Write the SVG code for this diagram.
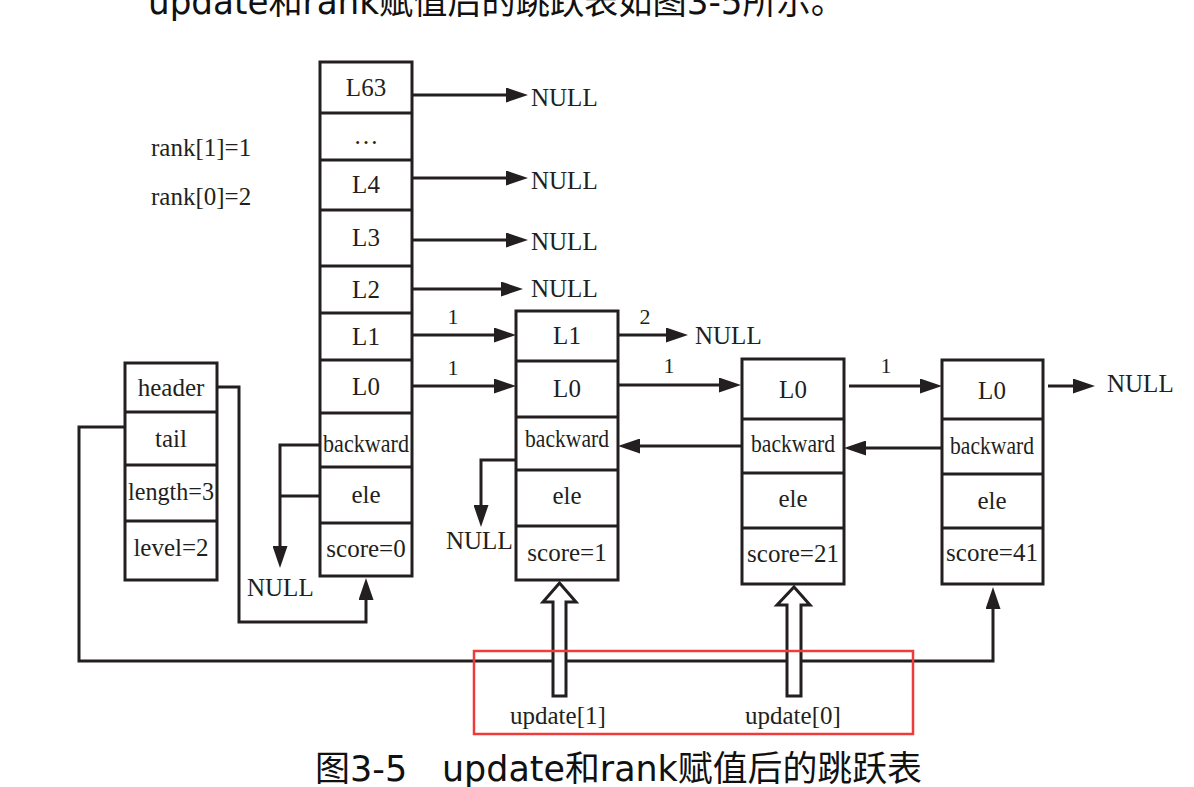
<svg xmlns="http://www.w3.org/2000/svg" width="1194" height="787" viewBox="0 0 1194 787">
<style>
.box{fill:#fff;stroke:#231f20;stroke-width:3}
.div{stroke:#231f20;stroke-width:3}
.t{font-family:"Liberation Serif","Times New Roman",serif;font-size:25px;fill:#231f20;text-anchor:middle}
.s{font-family:"Liberation Serif","Times New Roman",serif;font-size:22px;fill:#231f20}
.r{font-family:"Liberation Serif","Times New Roman",serif;font-size:25px;fill:#231f20}
.n{font-family:"Liberation Serif","Times New Roman",serif;font-size:25px;fill:#231f20}
.c{fill:none;stroke:#231f20;stroke-width:3}
.cap{font-family:"DejaVu Sans","Noto Sans CJK SC",sans-serif;font-size:35px;fill:#111}
</style>
<defs>
<marker id="arr" markerUnits="userSpaceOnUse" markerWidth="22" markerHeight="15" refX="12" refY="7.5" orient="auto">
<path d="M0,0 L22,7.5 L0,15 Z" fill="#231f20"/>
</marker>
</defs>
<rect width="1194" height="787" fill="#fff"/>
<text class="cap" x="148" y="14" textLength="697" lengthAdjust="spacingAndGlyphs">update和rank赋值后的跳跃表如图3-5所示。</text>
<text class="r" x="151" y="156">rank[1]=1</text>
<text class="r" x="151" y="205">rank[0]=2</text>

<g id="connectors">
<path class="c" marker-end="url(#arr)" d="M412,95 H518"/>
<path class="c" marker-end="url(#arr)" d="M412,178 H518"/>
<path class="c" marker-end="url(#arr)" d="M412,240 H518"/>
<path class="c" marker-end="url(#arr)" d="M412,289 H513"/>
<path class="c" marker-end="url(#arr)" d="M412,335 H506"/>
<path class="c" marker-end="url(#arr)" d="M412,386 H506"/>
<path class="c" marker-end="url(#arr)" d="M618,335 H678"/>
<path class="c" marker-end="url(#arr)" d="M618,385 H731"/>
<path class="c" marker-end="url(#arr)" d="M849,386 H932"/>
<path class="c" marker-end="url(#arr)" d="M1048,386 H1085"/>
<path class="c" marker-end="url(#arr)" d="M942,448 H854"/>
<path class="c" marker-end="url(#arr)" d="M742,446 H628"/>
<path class="c" marker-end="url(#arr)" d="M516,460 H481 V517"/>
<path class="c" marker-end="url(#arr)" d="M320,445 H280 V558"/>
<path class="c" d="M320,496 H280"/>
<path class="c" marker-end="url(#arr)" d="M217,387 H239 V622 H366 V588"/>
<path class="c" marker-end="url(#arr)" d="M125,427 H79 V661 H993 V597"/>
<path class="box" d="M553,696 V602 H543 L559.5,583 L576,602 H566 V696 Z"/>
<path class="box" d="M787,696 V605 H777 L794,587 L810,605 H801 V696 Z"/>
<text class="s" x="453" y="324" text-anchor="middle">1</text>
<text class="s" x="453" y="375" text-anchor="middle">1</text>
<text class="s" x="645" y="324" text-anchor="middle">2</text>
<text class="s" x="669" y="373" text-anchor="middle">1</text>
<text class="s" x="886" y="373" text-anchor="middle">1</text>
<text class="n" x="531" y="106">NULL</text>
<text class="n" x="531" y="189">NULL</text>
<text class="n" x="531" y="250">NULL</text>
<text class="n" x="531" y="297">NULL</text>
<text class="n" x="695" y="344">NULL</text>
<text class="n" x="1107" y="392">NULL</text>
<text class="n" x="446" y="549">NULL</text>
<text class="n" x="247" y="596">NULL</text>
<text class="n" x="510" y="724">update[1]</text>
<text class="n" x="745" y="724">update[0]</text>
</g>

<g id="node-list">
<rect class="box" x="125" y="363" width="92" height="217"/>
<path class="div" d="M125,412 H217 M125,465 H217 M125,521 H217"/>
<text class="t" x="171" y="396">header</text>
<text class="t" x="171" y="447">tail</text>
<text class="t" x="171" y="500" textLength="86" lengthAdjust="spacingAndGlyphs">length=3</text>
<text class="t" x="171" y="556">level=2</text>
</g>

<g id="node-header">
<rect class="box" x="320" y="62" width="92" height="514"/>
<path class="div" d="M320,113 H412 M320,160 H412 M320,210 H412 M320,266 H412 M320,313 H412 M320,360 H412 M320,413 H412 M320,467 H412 M320,523 H412"/>
<text class="t" x="366" y="96">L63</text>
<text class="t" x="366" y="144">…</text>
<text class="t" x="366" y="193">L4</text>
<text class="t" x="366" y="246">L3</text>
<text class="t" x="366" y="298">L2</text>
<text class="t" x="366" y="345">L1</text>
<text class="t" x="366" y="395">L0</text>
<text class="t" x="366" y="452" textLength="86" lengthAdjust="spacingAndGlyphs">backward</text>
<text class="t" x="366" y="503">ele</text>
<text class="t" x="366" y="557">score=0</text>
</g>

<g id="node-1">
<rect class="box" x="516" y="311" width="102" height="269"/>
<path class="div" d="M516,361 H618 M516,417 H618 M516,470 H618 M516,526 H618"/>
<text class="t" x="567" y="344">L1</text>
<text class="t" x="567" y="397">L0</text>
<text class="t" x="567" y="447" textLength="84" lengthAdjust="spacingAndGlyphs">backward</text>
<text class="t" x="567" y="504">ele</text>
<text class="t" x="567" y="561">score=1</text>
</g>

<g id="node-21">
<rect class="box" x="742" y="359" width="102" height="225"/>
<path class="div" d="M742,419 H844 M742,473 H844 M742,528 H844"/>
<text class="t" x="793" y="398">L0</text>
<text class="t" x="793" y="452" textLength="84" lengthAdjust="spacingAndGlyphs">backward</text>
<text class="t" x="793" y="507">ele</text>
<text class="t" x="793" y="562">score=21</text>
</g>

<g id="node-41">
<rect class="box" x="942" y="360" width="101" height="224"/>
<path class="div" d="M942,419 H1043 M942,474 H1043 M942,528 H1043"/>
<text class="t" x="992" y="399">L0</text>
<text class="t" x="992" y="454" textLength="84" lengthAdjust="spacingAndGlyphs">backward</text>
<text class="t" x="992" y="509">ele</text>
<text class="t" x="992" y="561">score=41</text>
</g>

<rect x="474" y="651" width="439" height="83" fill="none" stroke="#ee3b3b" stroke-width="2.5"/>
<text class="cap" x="315" y="781">图3-5</text>
<text class="cap" x="442" y="781" textLength="480" lengthAdjust="spacingAndGlyphs">update和rank赋值后的跳跃表</text>
</svg>
